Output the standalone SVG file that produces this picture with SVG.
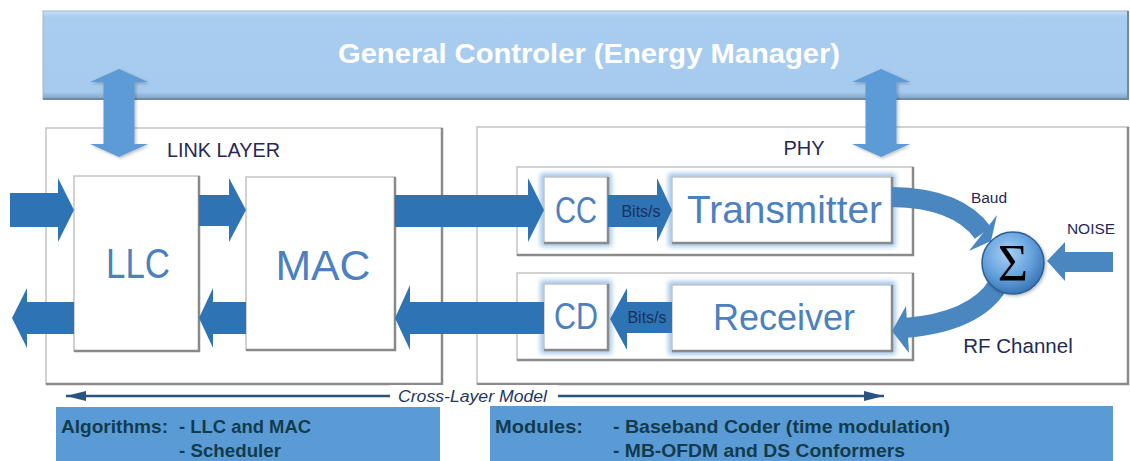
<svg xmlns="http://www.w3.org/2000/svg" width="1130" height="461" viewBox="0 0 1130 461">
<style>
.box{fill:#ffffff;stroke:#c4c4c4;stroke-width:1.5}
.shade{fill:none;stroke:#8a8a8a;stroke-width:2.5}
.glow{fill:none;stroke:#9cc2ea;stroke-width:7;filter:url(#blur)}
.big{font-family:"Liberation Sans",Arial,sans-serif;fill:#4c80be;text-anchor:middle}
.hdr{font-family:"Liberation Sans",Arial,sans-serif;fill:#1f2a56}
.flow{fill:#2e74b5}
.ud{fill:#5b9bd5}
.curve{fill:none;stroke:#4a86c0;stroke-width:20}
.curvehead{fill:#4a86c0}
.bits{font-family:"Liberation Sans",Arial,sans-serif;font-size:16px;fill:#1c2f5c;text-anchor:middle}
.bottom{fill:#5b9bd5}
.btxt{font-family:"Liberation Sans",Arial,sans-serif;font-weight:bold;font-size:19px;fill:#123c4e}
</style>
<defs>
<filter id="blur" x="-20%" y="-20%" width="140%" height="140%"><feGaussianBlur stdDeviation="2.5"/></filter>
<filter id="sh" x="-10%" y="-10%" width="130%" height="130%"><feDropShadow dx="1.5" dy="1.5" stdDeviation="1.5" flood-color="#000" flood-opacity="0.25"/></filter>
<linearGradient id="bannerG" x1="0" y1="0" x2="0" y2="1">
<stop offset="0" stop-color="#c9e0f5"/>
<stop offset="0.07" stop-color="#a9cdef"/>
<stop offset="0.92" stop-color="#a6cbee"/>
<stop offset="1" stop-color="#7fa2c4"/>
</linearGradient>
<radialGradient id="sigG" cx="0.42" cy="0.35" r="0.65">
<stop offset="0" stop-color="#a9d0f4"/>
<stop offset="0.6" stop-color="#65a2dd"/>
<stop offset="1" stop-color="#3b76b5"/>
</radialGradient>
<marker id="ah" viewBox="0 0 20 10" refX="20" refY="5" markerWidth="20" markerHeight="10" markerUnits="userSpaceOnUse" orient="auto-start-reverse">
<path d="M0,0 L20,5 L0,10 z" fill="#2b5380"/>
</marker>
</defs>

<rect width="1130" height="461" fill="#ffffff"/>

<g id="general-controller">
<rect x="43" y="11" width="1085" height="88" fill="url(#bannerG)" stroke="#9fb6cc" stroke-width="1"/>
<path d="M43,99 L1128,99 L1128,11" fill="none" stroke="#6f8aa6" stroke-width="2"/>
<text x="589" y="63" font-family="Liberation Sans,Arial,sans-serif" font-weight="bold" font-size="27" fill="#ffffff" text-anchor="middle" textLength="502" lengthAdjust="spacingAndGlyphs">General Controler (Energy Manager)</text>
</g>

<g id="link-layer">
<rect class="box" x="46" y="128" width="396" height="256"/>
<path class="shade" d="M46,384 L442,384 L442,128"/>
<text class="hdr" x="167" y="157" font-size="20" textLength="113" lengthAdjust="spacingAndGlyphs">LINK LAYER</text>
</g>

<g id="phy">
<rect class="box" x="477" y="127" width="651" height="257"/>
<path class="shade" d="M477,384 L1128,384 L1128,127"/>
<text class="hdr" x="804" y="155" font-size="20" text-anchor="middle">PHY</text>
</g>

<g id="energy-links">
<path class="ud" filter="url(#sh)" d="M119,69 L148,82 L134.5,82 L134.5,144 L148,144 L119,157 L90,144 L103.5,144 L103.5,82 L90,82 Z"/>
<path class="ud" filter="url(#sh)" d="M881,69 L910,82 L896.5,82 L896.5,144 L910,144 L881,157 L852,144 L865.5,144 L865.5,82 L852,82 Z"/>
</g>

<g id="tx-row">
<rect class="box" x="517" y="167" width="396" height="88"/>
<path class="shade" d="M517,255 L913,255 L913,167"/>
</g>
<g id="rx-row">
<rect class="box" x="517" y="273" width="396" height="87"/>
<path class="shade" d="M517,360 L913,360 L913,273"/>
</g>

<g id="llc">
<rect class="box" x="74" y="176" width="125" height="175"/>
<path class="shade" d="M74,351 L199,351 L199,176"/>
<text class="big" x="138" y="278" font-size="42" textLength="64" lengthAdjust="spacingAndGlyphs">LLC</text>
</g>

<g id="mac">
<rect class="box" x="246" y="177" width="149" height="173"/>
<path class="shade" d="M246,350 L395,350 L395,177"/>
<text class="big" x="323" y="280" font-size="42" textLength="95" lengthAdjust="spacingAndGlyphs">MAC</text>
</g>

<g id="cc">
<rect class="glow" x="544" y="177" width="64" height="66"/>
<rect class="box" x="544" y="177" width="64" height="66"/>
<path class="shade" d="M544,243 L608,243 L608,177"/>
<text class="big" x="576" y="223" font-size="37" textLength="42" lengthAdjust="spacingAndGlyphs">CC</text>
</g>

<g id="transmitter">
<rect class="glow" x="672" y="177" width="220" height="66"/>
<rect class="box" x="672" y="177" width="220" height="66"/>
<path class="shade" d="M672,243 L892,243 L892,177"/>
<text class="big" x="784.5" y="223" font-size="38" textLength="195" lengthAdjust="spacingAndGlyphs">Transmitter</text>
</g>

<g id="cd">
<rect class="glow" x="544" y="284" width="64" height="66"/>
<rect class="box" x="544" y="284" width="64" height="66"/>
<path class="shade" d="M544,350 L608,350 L608,284"/>
<text class="big" x="576" y="329" font-size="37" textLength="44" lengthAdjust="spacingAndGlyphs">CD</text>
</g>

<g id="receiver">
<rect class="glow" x="672" y="285" width="220" height="66"/>
<rect class="box" x="672" y="285" width="220" height="66"/>
<path class="shade" d="M672,351 L892,351 L892,285"/>
<text class="big" x="784" y="330" font-size="37" textLength="142" lengthAdjust="spacingAndGlyphs">Receiver</text>
</g>

<g id="connectors">
<path class="flow" d="M10,193 L58,193 L58,178 L74,210 L58,242 L58,227 L10,227 Z"/>
<path class="flow" d="M199,195 L229,195 L229,178 L246,210 L229,242 L229,226 L199,226 Z"/>
<path class="flow" d="M395,195 L528,195 L528,178 L544,210 L528,242 L528,227 L395,227 Z"/>
<path class="flow" d="M608,195 L657,195 L657,178 L672,210 L657,242 L657,227 L608,227 Z"/>
<path class="flow" d="M74,302 L27,302 L27,288 L12,318 L27,348 L27,334 L74,334 Z"/>
<path class="flow" d="M246,302 L213,302 L213,288 L199,318 L213,348 L213,334 L246,334 Z"/>
<path class="flow" d="M544,302 L410,302 L410,285 L395,318 L410,350 L410,334 L544,334 Z"/>
<path class="flow" d="M672,302 L627,302 L627,288 L610,319 L627,350 L627,333 L672,333 Z"/>
<text class="bits" x="641" y="217">Bits/s</text>
<text class="bits" x="647" y="323">Bits/s</text>
<path class="curve" d="M892,197 Q958,198 983,233"/>
<polygon class="curvehead" points="991,241 969,251 997,215"/>
<path class="curve" d="M998,285 Q975,322 905,328"/>
<polygon class="curvehead" points="892,331 906,306 909,353"/>
<path class="curvehead" d="M1113,252 L1065,252 L1065,242 L1047,261 L1065,281 L1065,272 L1113,272 Z"/>
<line x1="66" y1="396" x2="390" y2="396" stroke="#2b5380" stroke-width="2.5" marker-start="url(#ah)"/>
<line x1="558" y1="396" x2="884" y2="396" stroke="#2b5380" stroke-width="2.5" marker-end="url(#ah)"/>
</g>

<g id="sigma">
<circle cx="1013" cy="263" r="31" fill="url(#sigG)" stroke="#2c5f93" stroke-width="1.5" filter="url(#sh)"/>
<text x="1013" y="281" font-family="Liberation Serif,Times New Roman,serif" font-size="52" fill="#000000" text-anchor="middle">Σ</text>
</g>

<g id="channel-labels" font-family="Liberation Sans,Arial,sans-serif" fill="#1f2a56" text-anchor="middle">
<text x="989" y="203" font-size="15.5">Baud</text>
<text x="1091" y="234" font-size="15.5">NOISE</text>
<text x="1018" y="353" font-size="20.5">RF Channel</text>
</g>

<g id="cross-layer-label">
<rect x="390" y="385" width="168" height="21" fill="#ffffff"/>
<text x="398" y="402" font-family="Liberation Sans,Arial,sans-serif" font-style="italic" font-size="16" fill="#1f3864" textLength="149" lengthAdjust="spacingAndGlyphs">Cross-Layer Model</text>
</g>

<g id="algorithms">
<rect class="bottom" x="56" y="407" width="384" height="60"/>
<text class="btxt" x="61" y="433" textLength="107" lengthAdjust="spacingAndGlyphs">Algorithms:</text>
<text class="btxt" x="179" y="433" textLength="132" lengthAdjust="spacingAndGlyphs">- LLC and MAC</text>
<text class="btxt" x="179" y="457" textLength="102" lengthAdjust="spacingAndGlyphs">- Scheduler</text>
</g>

<g id="modules">
<rect class="bottom" x="490" y="406" width="623" height="60"/>
<text class="btxt" x="495" y="433" textLength="88" lengthAdjust="spacingAndGlyphs">Modules:</text>
<text class="btxt" x="613" y="433" textLength="337" lengthAdjust="spacingAndGlyphs">- Baseband Coder (time modulation)</text>
<text class="btxt" x="613" y="457" textLength="292" lengthAdjust="spacingAndGlyphs">- MB-OFDM and DS Conformers</text>
</g>
</svg>
